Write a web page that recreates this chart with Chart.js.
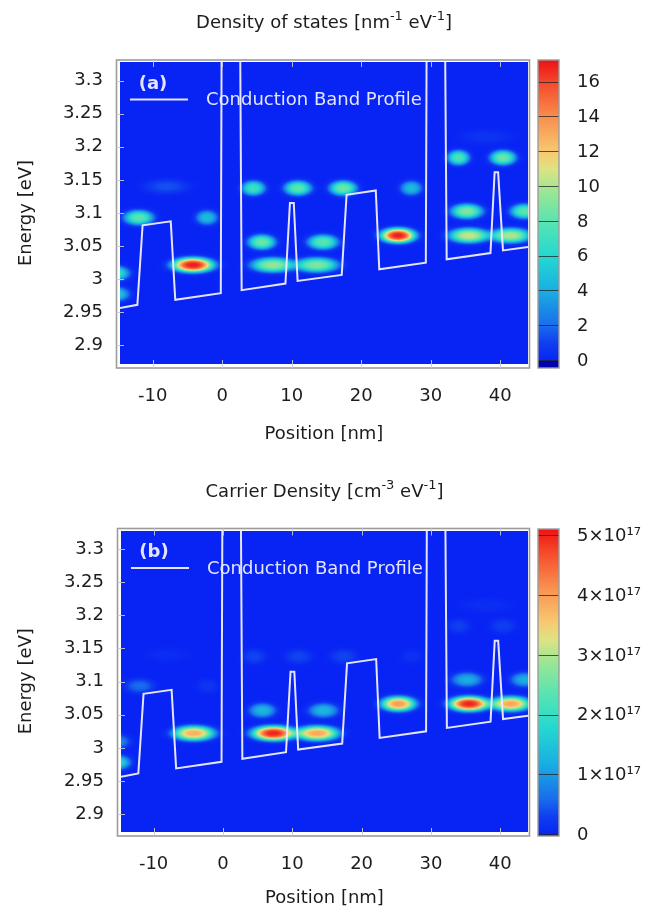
<!DOCTYPE html>
<html>
<head>
<meta charset="utf-8">
<script src="https://cdn.jsdelivr.net/npm/chart.js@4.4.1/dist/chart.umd.min.js"></script>
<style>
  html, body { margin: 0; padding: 0; background: #fff; }
  #wrap { position: relative; width: 658px; height: 915px; }
  .panel { position: absolute; left: 0; width: 658px; }
</style>
</head>
<body>
<div id="wrap">
  <div class="panel" style="top:0;height:458px"><canvas id="dos"></canvas></div>
  <div class="panel" style="top:458px;height:457px"><canvas id="carrier"></canvas></div>
</div>
<script>
// ---- axis ticks ----
const positionTicks = [-10, 0, 10, 20, 30, 40];                 // nm
const energyTicks = [2.9, 2.95, 3.0, 3.05, 3.1, 3.15, 3.2, 3.25, 3.3]; // eV
const dosTicks = [0, 2, 4, 6, 8, 10, 12, 14, 16];               // nm^-1 eV^-1
const carrierTicks = [0, 1, 2, 3, 4, 5];                         // x10^17 cm^-3 eV^-1

// ---- conduction band edge along the structure ----
const bandPosition = [-14.7, -12.2, -11.45, -7.4, -6.75, -0.2, 0.0, 2.45, 2.8, 9.1, 9.75, 10.3, 10.85,
                      17.2, 17.9, 22.1, 22.6, 29.3, 29.5, 31.9, 32.3, 38.6, 39.2, 39.7, 40.4, 44.0];
const bandEnergy   = [2.9565, 2.9614, 3.0815, 3.0875, 2.969, 2.979, 3.6, 3.6, 2.9835, 2.9935, 3.115, 3.115, 2.9975,
                      3.0065, 3.1275, 3.134, 3.015, 3.025, 3.6, 3.6, 3.03, 3.0395, 3.1615, 3.1615, 3.0435, 3.0485];

// ---- confined states: centre position (nm), energy (eV), lateral half-extent (nm) ----
const statePosition = [-12.0, -2.2, -4.2, -15.5, -15.5, 4.5, 10.9, 17.4, 27.2, 5.7, 14.5, 7.3, 13.6,
                       25.3, 34.0, 40.4, 35.2, 43.5, 35.5, 41.5, -8.0, 38.0];
const stateEnergy   = [3.093, 3.093, 3.0215, 3.009, 2.9775, 3.1375, 3.1375, 3.1375, 3.1375, 3.056, 3.056, 3.0215, 3.0215,
                       3.066, 3.1835, 3.1835, 3.1025, 3.1025, 3.066, 3.066, 3.14, 3.215];
const stateExtent   = [2.0, 1.5, 2.8, 2.0, 2.0, 1.6, 1.85, 1.85, 1.5, 1.85, 2.05, 2.9, 2.9,
                       2.35, 1.5, 1.75, 2.15, 1.9, 2.7, 2.7, 3.0, 3.5];
const stateBroadening = 0.0105; // eV

// peak density of states of each state, nm^-1 eV^-1
const dosPeak     = [8.0, 4.5, 17.0, 7.0, 5.5, 7.0, 8.0, 8.5, 4.5, 8.5, 8.0, 9.5, 9.0,
                     17.0, 7.5, 8.5, 9.0, 8.0, 10.5, 10.0, 1.4, 0.6];
// peak carrier density of each state, 10^17 cm^-3 eV^-1
const carrierPeak = [0.6, 0.2, 3.8, 0.9, 1.9, 0.35, 0.35, 0.35, 0.15, 1.3, 1.3, 5.0, 3.9,
                     4.0, 0.3, 0.3, 1.2, 1.2, 5.0, 3.9, 0.1, 0.12];

// ---- colour map (fraction of colour-bar top -> rgb) ----
const paletteStops = [
  [0.00, [8, 36, 244]],
  [0.06, [15, 62, 240]],
  [0.12, [25, 110, 236]],
  [0.23, [25, 172, 226]],
  [0.35, [35, 216, 208]],
  [0.46, [85, 228, 178]],
  [0.56, [150, 230, 150]],
  [0.64, [220, 228, 130]],
  [0.70, [248, 200, 112]],
  [0.81, [248, 145, 80]],
  [0.92, [245, 80, 45]],
  [1.00, [238, 22, 22]]
];
const BELOW_ZERO = [0, 0, 175];
const LUT = (() => {
  const lut = [];
  for (let n = 0; n <= 1000; n++) {
    const t = n / 1000;
    let k = 0;
    while (k < paletteStops.length - 2 && t > paletteStops[k + 1][0]) k++;
    const [t0, c0] = paletteStops[k], [t1, c1] = paletteStops[k + 1];
    const f = Math.min(1, Math.max(0, (t - t0) / (t1 - t0)));
    lut.push(c0.map((c, i) => Math.round(c + (c1[i] - c) * f)));
  }
  return lut;
})();
function colourAt(t) {
  if (t < 0) return BELOW_ZERO;
  return LUT[Math.round(Math.min(1, t) * 1000)];
}

const FONT = 'DejaVu Sans';
const TEXT = '#1c1c1c';
const PROFILE = 'rgba(236,236,255,0.96)';

// density map behind the band profile
function drawMap(chart, peaks) {
  const { ctx, chartArea: a, scales } = chart;
  const xs = scales.x, ys = scales.y, top = scales.cb.max;
  const w = Math.ceil(a.right - a.left), h = Math.ceil(a.bottom - a.top);
  const field = new Float32Array(w * h);
  const px = new Float32Array(w), ey = new Float32Array(h);
  for (let i = 0; i < w; i++) px[i] = xs.getValueForPixel(a.left + i + 0.5);
  for (let j = 0; j < h; j++) ey[j] = ys.getValueForPixel(a.top + j + 0.5);
  const col = new Float32Array(w), row = new Float32Array(h);
  for (let k = 0; k < statePosition.length; k++) {
    const amp = peaks[k];
    if (!amp) continue;
    for (let i = 0; i < w; i++) { const d = (px[i] - statePosition[k]) / stateExtent[k]; col[i] = d * d; }
    for (let j = 0; j < h; j++) { const d = (ey[j] - stateEnergy[k]) / stateBroadening; row[j] = d * d; }
    for (let j = 0; j < h; j++) {
      if (row[j] > 6) continue;
      const base = j * w;
      for (let i = 0; i < w; i++) {
        const r2 = col[i] + row[j];
        if (r2 > 6) continue;
        field[base + i] += amp * Math.exp(-Math.pow(r2, 1.5));
      }
    }
  }
  const img = new ImageData(w, h);
  for (let n = 0; n < w * h; n++) {
    const c = colourAt(field[n] / top);
    img.data[4 * n] = c[0]; img.data[4 * n + 1] = c[1]; img.data[4 * n + 2] = c[2]; img.data[4 * n + 3] = 255;
  }
  const off = document.createElement('canvas');
  off.width = w; off.height = h;
  off.getContext('2d').putImageData(img, 0, 0);
  ctx.drawImage(off, a.left, a.top, a.right - a.left, a.bottom - a.top);
}

// text with raised, smaller pieces
function drawRich(ctx, parts, cx, cy, size) {
  const supSize = Math.round(size * 0.72);
  let total = 0;
  parts.forEach(([t, sup]) => {
    ctx.font = `${sup ? supSize : size}px "${FONT}"`;
    total += ctx.measureText(t).width;
  });
  let x = cx - total / 2;
  ctx.textAlign = 'left';
  ctx.textBaseline = 'middle';
  parts.forEach(([t, sup]) => {
    ctx.font = `${sup ? supSize : size}px "${FONT}"`;
    ctx.fillText(t, x, sup ? cy - size * 0.36 : cy);
    x += ctx.measureText(t).width;
  });
}

function makePanel(id, p) {
  const decor = {
    id: 'decor',
    beforeDatasetsDraw(chart) {
      const { ctx, chartArea: a } = chart;
      ctx.save();
      ctx.fillStyle = '#fff';
      ctx.fillRect(a.left - 3.5, a.top - 2, a.right - a.left + 5, a.bottom - a.top + 6);
      ctx.strokeStyle = '#9c9c9c';
      ctx.lineWidth = 1.6;
      ctx.strokeRect(a.left - 3.5, a.top - 2, a.right - a.left + 5, a.bottom - a.top + 6);
      ctx.restore();
      drawMap(chart, p.peaks);
    },
    afterDatasetsDraw(chart) {
      const { ctx, chartArea: a, scales } = chart;
      ctx.save();
      // inward tick marks
      ctx.strokeStyle = 'rgba(200,200,212,0.9)';
      ctx.lineWidth = 1;
      ctx.beginPath();
      scales.x.ticks.forEach(t => {
        const xp = Math.round(scales.x.getPixelForValue(t.value)) + 0.5;
        ctx.moveTo(xp, a.bottom + 4); ctx.lineTo(xp, a.bottom - 4);
        ctx.moveTo(xp, a.top - 2); ctx.lineTo(xp, a.top + 5);
      });
      scales.y.ticks.forEach(t => {
        const yp = Math.round(scales.y.getPixelForValue(t.value)) + 0.5;
        ctx.moveTo(a.left - 3.5, yp); ctx.lineTo(a.left + 4, yp);
      });
      ctx.stroke();
      // panel letter and legend
      ctx.fillStyle = PROFILE;
      ctx.font = `bold 18px "${FONT}"`;
      ctx.textAlign = 'center';
      ctx.textBaseline = 'middle';
      ctx.fillText(p.letter, a.left + 33, a.top + 22);
      ctx.strokeStyle = PROFILE;
      ctx.lineWidth = 2;
      ctx.beginPath();
      ctx.moveTo(a.left + 10, a.top + 37.5); ctx.lineTo(a.left + 68, a.top + 37.5);
      ctx.stroke();
      ctx.font = `18px "${FONT}"`;
      ctx.textAlign = 'left';
      ctx.fillText(chart.data.datasets[0].label, a.left + 86, a.top + 38.5);
      ctx.restore();
    },
    afterDraw(chart) {
      const { ctx, chartArea: a, scales: { cb } } = chart;
      ctx.save();
      // colour bar
      const x0 = a.right + 10, x1 = a.right + 31;
      const y0 = a.top - 1.5, y1 = a.bottom + 4;
      for (let yp = Math.floor(y0); yp < y1; yp++) {
        const v = cb.getValueForPixel(yp + 0.5);
        const c = colourAt(v / cb.max);
        ctx.fillStyle = `rgb(${c[0]},${c[1]},${c[2]})`;
        ctx.fillRect(x0, yp, x1 - x0, 1);
      }
      ctx.strokeStyle = 'rgba(35,35,35,0.75)';
      ctx.lineWidth = 1;
      ctx.beginPath();
      cb.ticks.forEach(t => {
        const yp = Math.round(cb.getPixelForValue(t.value)) - 0.5;
        ctx.moveTo(x0, yp); ctx.lineTo(x1, yp);
      });
      ctx.stroke();
      ctx.strokeStyle = '#9c9c9c';
      ctx.lineWidth = 1.4;
      ctx.strokeRect(x0, Math.floor(y0), x1 - x0, y1 - Math.floor(y0));
      // heading
      ctx.fillStyle = TEXT;
      drawRich(ctx, p.heading, (a.left + a.right) / 2, p.headingY, 18);
      ctx.restore();
    }
  };

  return new Chart(document.getElementById(id), {
    type: 'line',
    data: {
      datasets: [{
        label: 'Conduction Band Profile',
        data: bandPosition.map((xv, i) => ({ x: xv, y: bandEnergy[i] })),
        borderColor: PROFILE,
        borderWidth: 2,
        pointRadius: 0,
        tension: 0,
        fill: false
      }]
    },
    options: {
      responsive: true,
      maintainAspectRatio: false,
      animation: false,
      events: [],
      layout: { padding: { top: p.padTop, left: 0, right: 0, bottom: 0 } },
      plugins: { legend: { display: false }, title: { display: false }, tooltip: { enabled: false } },
      scales: {
        x: {
          type: 'linear', position: 'bottom', min: -14.7, max: 44.0,
          grid: { display: false, drawTicks: false }, border: { display: false },
          afterBuildTicks: s => { s.ticks = positionTicks.map(v => ({ value: v })); },
          afterFit: s => { s.height = p.xHeight; },
          ticks: { padding: 22, color: TEXT, font: { family: FONT, size: 18 }, autoSkip: false, maxRotation: 0 },
          title: { display: true, text: 'Position [nm]', color: TEXT, font: { family: FONT, size: 18 },
                   padding: { top: 0, bottom: p.xTitlePad } }
        },
        y: {
          type: 'linear', position: 'left', min: p.yMin, max: p.yMax,
          grid: { display: false, drawTicks: false }, border: { display: false },
          afterBuildTicks: s => { s.ticks = energyTicks.map(v => ({ value: v })); },
          afterFit: s => { s.width = p.yWidth; },
          ticks: { padding: 17, color: TEXT, font: { family: FONT, size: 18 }, autoSkip: false,
                   callback: v => String(Number(v.toFixed(2))) },
          title: { display: true, text: 'Energy [eV]', color: TEXT, font: { family: FONT, size: 18 },
                   padding: { top: 16, bottom: 0 } }
        },
        cb: {
          type: 'linear', position: 'right', min: p.cbMin, max: p.cbMax,
          grid: { display: false, drawTicks: false }, border: { display: false },
          afterBuildTicks: s => { s.ticks = p.cbTicks.map(v => ({ value: v })); },
          afterFit: s => { s.width = 658 - 528; },
          ticks: { padding: 49, color: TEXT, font: { family: FONT, size: 18 }, autoSkip: false,
                   callback: p.cbLabel }
        }
      }
    },
    plugins: [decor]
  });
}

makePanel('dos', {
  peaks: dosPeak,
  letter: '(a)',
  heading: [['Density of states [nm', 0], ['-1', 1], [' eV', 0], ['-1', 1], [']', 0]],
  headingY: 23,
  padTop: 62, xHeight: 94, xTitlePad: 13, yWidth: 120,
  yMin: 2.872, yMax: 3.328,
  cbMin: -0.17, cbMax: 17.19, cbTicks: dosTicks,
  cbLabel: v => String(v)
});

makePanel('carrier', {
  peaks: carrierPeak,
  letter: '(b)',
  heading: [['Carrier Density [cm', 0], ['-3', 1], [' eV', 0], ['-1', 1], [']', 0]],
  headingY: 34,
  padTop: 72.5, xHeight: 83, xTitlePad: 6, yWidth: 121,
  yMin: 2.873, yMax: 3.328,
  cbMin: 0.05, cbMax: 5.1, cbTicks: carrierTicks,
  cbLabel: v => v === 0 ? '0' : v + '×10¹⁷'
});
</script>
</body>
</html>
